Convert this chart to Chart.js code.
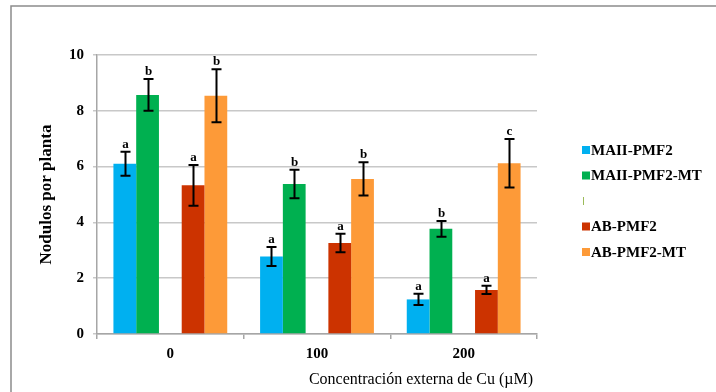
<!DOCTYPE html>
<html>
<head>
<meta charset="utf-8">
<script src="https://cdn.jsdelivr.net/npm/chart.js@4"></script>
<style>
  html, body { margin: 0; padding: 0; background: #fff; }
  canvas { display: block; }
</style>
</head>
<body>
<canvas id="nodulos" width="716" height="392"></canvas>
<script>
var categories = ['0', '100', '200'];
var yTicks = [0, 2, 4, 6, 8, 10];

var maiiPmf2 = [6.10, 2.78, 1.24];
var maiiPmf2Err = [0.43, 0.34, 0.20];
var maiiPmf2Let = ['a', 'a', 'a'];

var maiiPmf2Mt = [8.57, 5.38, 3.77];
var maiiPmf2MtErr = [0.57, 0.51, 0.28];
var maiiPmf2MtLet = ['b', 'b', 'b'];

var abPmf2 = [5.33, 3.26, 1.58];
var abPmf2Err = [0.73, 0.33, 0.15];
var abPmf2Let = ['a', 'a', 'a'];

var abPmf2Mt = [8.54, 5.56, 6.12];
var abPmf2MtErr = [0.95, 0.60, 0.87];
var abPmf2MtLet = ['b', 'b', 'c'];

var serif = "'Liberation Serif', 'Times New Roman', serif";

// error bars + significance letters on top of each bar
var errorBars = {
    id: 'errorBars',
    afterDatasetsDraw: function(chart) {
        var ctx = chart.ctx;
        var y = chart.scales.y;
        ctx.save();
        chart.data.datasets.forEach(function(ds, i) {
            if (!ds.err) return;
            var meta = chart.getDatasetMeta(i);
            meta.data.forEach(function(bar, j) {
                var v = ds.data[j];
                var top = y.getPixelForValue(v + ds.err[j]);
                var bot = y.getPixelForValue(v - ds.err[j]);
                var x = Math.round(bar.x) + 0.5;
                ctx.strokeStyle = '#000';
                ctx.lineWidth = 2;
                ctx.beginPath();
                ctx.moveTo(x, top); ctx.lineTo(x, bot);
                ctx.moveTo(x - 5, top); ctx.lineTo(x + 5, top);
                ctx.moveTo(x - 5, bot); ctx.lineTo(x + 5, bot);
                ctx.stroke();
                ctx.fillStyle = '#000';
                ctx.font = 'bold 13px ' + serif;
                ctx.textAlign = 'center';
                ctx.textBaseline = 'bottom';
                ctx.fillText(ds.letters[j], x, top - 1);
            });
        });
        ctx.restore();
    },
    afterDraw: function(chart) {
        var ctx = chart.ctx;
        var area = chart.chartArea;
        ctx.save();

        // frame
        ctx.strokeStyle = '#8c8c8c';
        ctx.lineWidth = 1.5;
        ctx.beginPath();
        ctx.moveTo(11, 392);
        ctx.lineTo(11, 6);
        ctx.lineTo(716, 6);
        ctx.stroke();

        // axis titles
        ctx.fillStyle = '#000';
        ctx.textAlign = 'center';
        ctx.textBaseline = 'middle';
        ctx.font = '16px ' + serif;
        ctx.fillText('Concentración externa de Cu (µM)', 421, 380);

        ctx.save();
        ctx.translate(47, (area.top + area.bottom) / 2);
        ctx.rotate(-Math.PI / 2);
        ctx.font = 'bold 17px ' + serif;
        ctx.fillText('Nodulos por planta', 0, 0);
        ctx.restore();

        // legend
        var ly = 150;
        ctx.font = 'bold 15px ' + serif;
        ctx.textAlign = 'left';
        chart.data.datasets.forEach(function(ds) {
            if (ds.label) {
                ctx.fillStyle = ds.backgroundColor;
                ctx.fillRect(582, ly - 4, 8, 8);
                ctx.fillStyle = '#000';
                ctx.fillText(ds.label, 591, ly + 1);
            } else {
                ctx.strokeStyle = '#9bbb59';
                ctx.lineWidth = 1;
                ctx.beginPath();
                ctx.moveTo(583.5, ly - 4);
                ctx.lineTo(583.5, ly + 4);
                ctx.stroke();
            }
            ly += 25.5;
        });
        ctx.restore();
    }
};

var ctx = document.getElementById('nodulos');

var chart = new Chart(ctx, {
    type: 'bar',
    data: {
        labels: categories,
        datasets: [
            { label: 'MAII-PMF2', data: maiiPmf2, err: maiiPmf2Err, letters: maiiPmf2Let, backgroundColor: '#00b0f0' },
            { label: 'MAII-PMF2-MT', data: maiiPmf2Mt, err: maiiPmf2MtErr, letters: maiiPmf2MtLet, backgroundColor: '#00b050' },
            { label: '', data: [null, null, null], backgroundColor: '#9bbb59' },
            { label: 'AB-PMF2', data: abPmf2, err: abPmf2Err, letters: abPmf2Let, backgroundColor: '#cc3300' },
            { label: 'AB-PMF2-MT', data: abPmf2Mt, err: abPmf2MtErr, letters: abPmf2MtLet, backgroundColor: '#fd9a38' }
        ]
    },
    options: {
        responsive: false,
        animation: false,
        devicePixelRatio: 1,
        datasets: {
            bar: { barPercentage: 1, categoryPercentage: 0.776 }
        },
        layout: { padding: { left: 0, top: 55, right: 179, bottom: 0 } },
        plugins: {
            legend: { display: false },
            tooltip: { enabled: false }
        },
        scales: {
            x: {
                grid: { drawOnChartArea: false, color: '#a6a6a6', lineWidth: 1.5, tickLength: 5 },
                border: { color: '#a6a6a6', width: 1.5 },
                ticks: { color: '#000', font: { family: serif, size: 15, weight: 'bold' }, padding: 6 },
                afterFit: function(scale) { scale.height = 58; }
            },
            y: {
                min: 0,
                max: 10,
                afterBuildTicks: function(scale) {
                    scale.ticks = yTicks.map(function(v) { return { value: v }; });
                },
                grid: { color: '#c8c8c8', lineWidth: 1.5, tickLength: 4 },
                border: { color: '#a6a6a6', width: 1.5 },
                ticks: { color: '#000', font: { family: serif, size: 15, weight: 'bold' }, padding: 9 },
                afterFit: function(scale) { scale.width = 97; }
            }
        }
    },
    plugins: [errorBars]
});
</script>
</body>
</html>
